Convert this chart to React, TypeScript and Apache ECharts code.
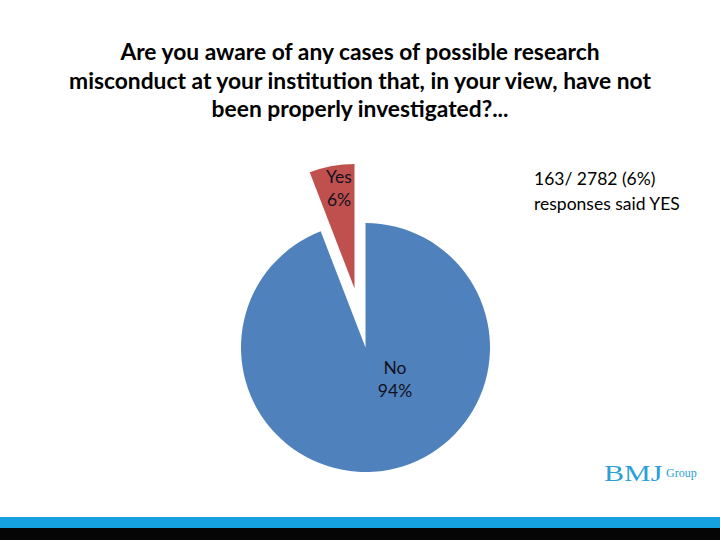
import React, { useEffect, useRef } from "react";
import * as echarts from "echarts";

const categories = ["No", "Yes"];
const responses = [2619, 163];
const titleLines = [
  "Are you aware of any cases of possible research",
  "misconduct at your institution that, in your view, have not",
  "been properly investigated?...",
];
const noteLines = ["163/ 2782 (6%)", "responses said YES"];
const colors = ["#4F81BD", "#C0504D"];
const labelCenters = [
  [395, 379],
  [339, 188],
];

export default function App() {
  const ref = useRef<HTMLDivElement>(null);
  useEffect(() => {
    document.body.style.margin = "0";
    const chart = echarts.init(ref.current!, undefined, { renderer: "svg" });
    const common = {
      type: "pie",
      center: [365.5, 347.5],
      radius: 124.5,
      startAngle: 90,
      clockwise: true,
      percentPrecision: 0,
      emphasis: { disabled: true },
    };
    chart.setOption({
      animation: false,
      backgroundColor: "#ffffff",
      title: {
        text: titleLines.join("\n"),
        left: "center",
        top: 32,
        textStyle: {
          fontFamily: "Lato",
          fontWeight: "bold",
          fontSize: 22.8,
          lineHeight: 28.5,
          color: "#000000",
          align: "center",
        },
      },
      series: [
        {
          ...common,
          selectedMode: "single",
          selectedOffset: 60,
          itemStyle: { borderWidth: 0 },
          label: { show: false },
          labelLine: { show: false },
          data: categories.map((c, i) => ({
            name: c,
            value: responses[i],
            selected: c === "Yes",
            itemStyle: { color: colors[i] },
          })),
        },
        {
          ...common,
          silent: true,
          selectedMode: false,
          itemStyle: { color: "rgba(0,0,0,0)", borderWidth: 0 },
          label: {
            show: true,
            position: "inside",
            formatter: "{b}\n{d}%",
            fontFamily: "Lato",
            fontSize: 17.5,
            lineHeight: 23,
            color: "#111122",
            align: "center",
          },
          labelLayout: (p: any) => ({
            x: labelCenters[p.dataIndex][0],
            y: labelCenters[p.dataIndex][1],
            align: "center",
            verticalAlign: "middle",
          }),
          data: categories.map((c, i) => ({ name: c, value: responses[i] })),
        },
      ],
      graphic: [
        {
          type: "text",
          left: 534,
          top: 166,
          style: {
            text: noteLines.join("\n"),
            font: "17.5px Lato",
            lineHeight: 25,
            fill: "#000000",
          },
        },
        {
          type: "text",
          x: 604,
          y: 461,
          scaleX: 1.25,
          style: {
            text: "BMJ",
            font: "24px 'Liberation Serif'",
            fill: "#2A9FD8",
          },
        },
        {
          type: "text",
          x: 666,
          y: 467,
          style: {
            text: "Group",
            font: "12px 'Liberation Serif'",
            fill: "#2A9FD8",
          },
        },
        {
          type: "rect",
          shape: { x: 0, y: 517, width: 720, height: 11 },
          style: { fill: "#15A1E0" },
        },
        {
          type: "rect",
          shape: { x: 0, y: 528, width: 720, height: 12 },
          style: { fill: "#050505" },
        },
      ],
    });
    return () => chart.dispose();
  }, []);
  return <div ref={ref} style={{ width: 720, height: 540 }} />;
}
